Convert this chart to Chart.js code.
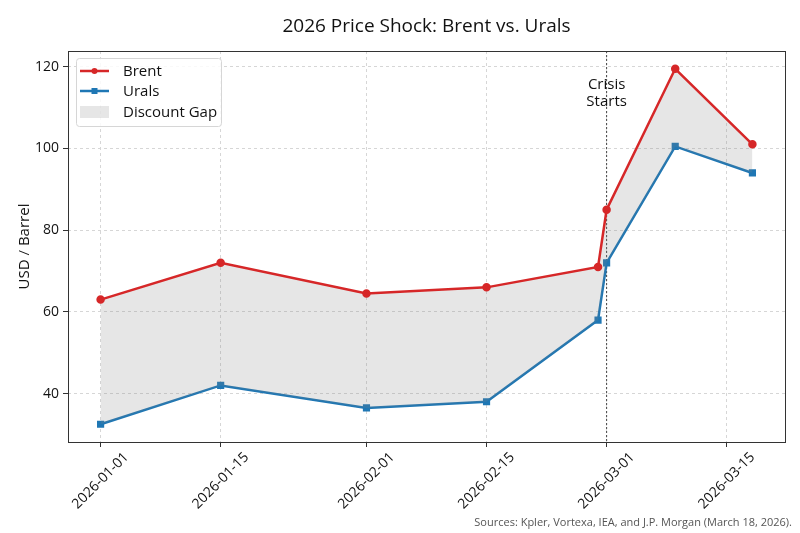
<!DOCTYPE html>
<html>
<head>
<meta charset="utf-8">
<script src="https://cdn.jsdelivr.net/npm/chart.js@4"></script>
<style>
  html, body { margin: 0; padding: 0; background: #fff; }
  canvas { display: block; }
</style>
</head>
<body>
<canvas id="priceChart" width="800" height="533"></canvas>
<script>
// data
const dates = ['2026-01-01', '2026-01-15', '2026-02-01', '2026-02-15', '2026-02-28', '2026-03-01', '2026-03-09', '2026-03-18'];
const brent = [63, 72, 64.5, 66, 71, 85, 119.5, 101];
const urals = [32.5, 42, 36.5, 38, 58, 72, 100.5, 94];
const crisisDate = '2026-03-01';
const xTickDates = ['2026-01-01', '2026-01-15', '2026-02-01', '2026-02-15', '2026-03-01', '2026-03-15'];
const yTicks = [40, 60, 80, 100, 120];

const FONT = "'Open Sans', 'DejaVu Sans', sans-serif";
const RED = '#d62728', BLUE = '#1f77b4';
const day0 = Date.parse(dates[0]);
const toDay = d => (Date.parse(d) - day0) / 86400000;

const days = dates.map(toDay);
const xMin = Math.min(...days), xMax = Math.max(...days);
const allY = brent.concat(urals);
const yMin = Math.min(...allY), yMax = Math.max(...allY);
const mx = (xMax - xMin) * 0.05, my = (yMax - yMin) * 0.05;

const decor = {
  id: 'decor',
  beforeDatasetsDraw(chart) {
    const {ctx, chartArea: a, scales: {x}} = chart;
    const cx = x.getPixelForValue(toDay(crisisDate));
    ctx.save();
    ctx.strokeStyle = '#444';
    ctx.lineWidth = 1;
    ctx.setLineDash([2, 2]);
    ctx.beginPath();
    ctx.moveTo(cx, a.top);
    ctx.lineTo(cx, a.bottom);
    ctx.stroke();
    ctx.setLineDash([]);
    ctx.fillStyle = '#111';
    ctx.font = '15px ' + FONT;
    ctx.textAlign = 'center';
    ctx.textBaseline = 'middle';
    ctx.fillText('Crisis', cx, 85);
    ctx.fillText('Starts', cx, 102);
    ctx.restore();
  },
  afterDraw(chart) {
    const {ctx, chartArea: a, scales: {x}} = chart;
    ctx.save();
    // frame
    ctx.strokeStyle = '#333';
    ctx.lineWidth = 1;
    ctx.strokeRect(a.left + 0.5, a.top + 0.5, a.right - a.left, a.bottom - a.top);

    // title
    ctx.fillStyle = '#111';
    ctx.textAlign = 'center';
    ctx.textBaseline = 'middle';
    ctx.font = '19px ' + FONT;
    ctx.fillText('2026 Price Shock: Brent vs. Urals', (a.left + a.right) / 2, 27);

    // y title
    ctx.save();
    ctx.translate(25, (a.top + a.bottom) / 2);
    ctx.rotate(-Math.PI / 2);
    ctx.font = '15px ' + FONT;
    ctx.fillText('USD / Barrel', 0, 0);
    ctx.restore();

    // x tick labels, rotated 45 and centred on the tick
    ctx.font = '14px ' + FONT;
    xTickDates.forEach(d => {
      const px = x.getPixelForValue(toDay(d));
      const w = ctx.measureText(d).width;
      const cy = a.bottom + 8 + (w + 14) * 0.7071 / 2;
      ctx.save();
      ctx.translate(px, cy);
      ctx.rotate(-Math.PI / 4);
      ctx.fillText(d, 0, 0);
      ctx.restore();
    });

    // legend
    const lx = 76, ly = 58, lw = 145, lh = 68;
    ctx.fillStyle = 'rgba(255,255,255,0.85)';
    ctx.strokeStyle = '#d6d6d6';
    ctx.beginPath();
    ctx.roundRect(lx + 0.5, ly + 0.5, lw, lh, 3);
    ctx.fill();
    ctx.stroke();
    const rows = [
      {label: 'Brent', color: RED, shape: 'circle', y: 71},
      {label: 'Urals', color: BLUE, shape: 'rect', y: 91},
    ];
    ctx.lineWidth = 2.5;
    rows.forEach(r => {
      ctx.strokeStyle = r.color;
      ctx.fillStyle = r.color;
      ctx.beginPath();
      ctx.moveTo(80, r.y);
      ctx.lineTo(109, r.y);
      ctx.stroke();
      ctx.beginPath();
      if (r.shape === 'circle') ctx.arc(94.5, r.y, 3, 0, Math.PI * 2);
      else ctx.rect(91.5, r.y - 3, 6, 6);
      ctx.fill();
      ctx.fillStyle = '#111';
      ctx.textAlign = 'left';
      ctx.font = '15px ' + FONT;
      ctx.fillText(r.label, 123, r.y + 1);
    });
    ctx.fillStyle = 'rgba(128,128,128,0.2)';
    ctx.fillRect(80, 106, 29, 12);
    ctx.fillStyle = '#111';
    ctx.fillText('Discount Gap', 123, 113);

    // source note
    ctx.font = '11px ' + FONT;
    ctx.fillStyle = '#555';
    ctx.textAlign = 'right';
    ctx.fillText('Sources: Kpler, Vortexa, IEA, and J.P. Morgan (March 18, 2026).', 792, 523);
    ctx.restore();
  }
};

new Chart(document.getElementById('priceChart').getContext('2d'), {
  type: 'line',
  data: {
    datasets: [
      {
        label: 'Brent',
        data: days.map((d, i) => ({x: d, y: brent[i]})),
        borderColor: RED, borderWidth: 2.5,
        pointStyle: 'circle', pointRadius: 3,
        pointBackgroundColor: RED, pointBorderColor: RED,
        backgroundColor: 'rgba(128,128,128,0.2)',
        fill: '+1', tension: 0
      },
      {
        label: 'Urals',
        data: days.map((d, i) => ({x: d, y: urals[i]})),
        borderColor: BLUE, borderWidth: 2.5,
        pointStyle: 'rect', pointRadius: 3.3,
        pointBackgroundColor: BLUE, pointBorderColor: BLUE,
        backgroundColor: BLUE,
        fill: false, tension: 0
      }
    ]
  },
  options: {
    responsive: false,
    animation: false,
    devicePixelRatio: 1,
    layout: { padding: { top: 51, right: 15, bottom: 0, left: 0 } },
    plugins: { legend: { display: false }, tooltip: { enabled: false }, title: { display: false } },
    scales: {
      x: {
        type: 'linear',
        min: xMin - mx, max: xMax + mx,
        afterFit: s => { s.height = 91; },
        afterBuildTicks: s => { s.ticks = xTickDates.map(d => ({value: toDay(d)})); },
        ticks: { display: false },
        grid: { color: '#d6d6d6', tickColor: '#333', tickLength: 5, drawTicks: true },
        border: { display: false, dash: [3, 3] }
      },
      y: {
        min: yMin - my, max: yMax + my,
        afterFit: s => { s.width = 68; },
        afterBuildTicks: s => { s.ticks = yTicks.map(v => ({value: v})); },
        ticks: { color: '#111', font: { family: FONT, size: 14 }, padding: 4 },
        grid: { color: '#d6d6d6', tickColor: '#333', tickLength: 5, drawTicks: true },
        border: { display: false, dash: [3, 3] }
      }
    }
  },
  plugins: [decor]
});
</script>
</body>
</html>
